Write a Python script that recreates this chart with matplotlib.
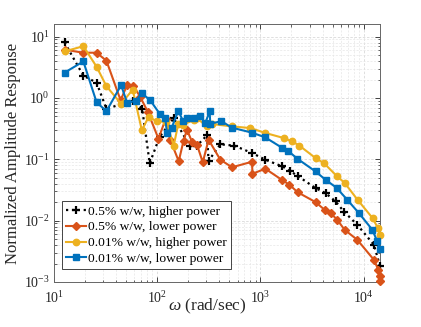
import matplotlib
matplotlib.use("Agg")
import matplotlib.pyplot as plt
from matplotlib.ticker import LogLocator, NullFormatter

plt.rcParams['font.family'] = ['Liberation Serif', 'DejaVu Serif']
plt.rcParams['mathtext.fontset'] = 'custom'
plt.rcParams['mathtext.rm'] = 'Liberation Serif'
plt.rcParams['mathtext.it'] = 'Liberation Serif:italic'
plt.rcParams['mathtext.bf'] = 'Liberation Serif:bold'

# ---------------- data ----------------
labels = ['0.5% w/w, higher power', '0.5% w/w, lower power',
          '0.01% w/w, higher power', '0.01% w/w, lower power']

black_x = [12.65, 19.25, 25.85, 32.2, 58.5, 71.5, 84.6, 105.7, 144.6, 209, 242.9, 303.8, 314.8,
           409, 559, 830.8, 1118, 1635, 1956, 2338, 3420, 4277, 5350, 6442, 8686, 12590, 14400]
black_y = [8.07, 2.31, 1.78, 0.669, 0.904, 0.669, 0.0863, 0.234, 0.468, 0.162, 0.167, 0.247, 0.0948,
           0.176, 0.167, 0.1268, 0.0985, 0.0766, 0.064, 0.0526, 0.034, 0.0282, 0.0206, 0.0141,
           0.00857, 0.00404, 0.00184]

orange_x = [12.65, 19.25, 25.85, 32.2, 44.2, 51.1, 58.5, 68.4, 80.9, 102.9,
            120.9, 133.7, 161.7, 180, 194.3, 217.3, 242.9, 276.5, 314.8, 409,
            531, 830.8, 836.5, 1118, 1635, 1912, 2302, 3420, 4180, 4782,
            5555, 6540, 8686, 12590, 13900, 14300, 14400]
orange_y = [6.14, 5.48, 5.48, 4.06, 0.92, 1.63, 1.59, 1.05, 0.598, 0.217,
            0.46, 0.209, 0.093, 0.201, 0.304, 0.194, 0.173, 0.0897, 0.209, 0.0985,
            0.0743, 0.0914, 0.0582, 0.0703, 0.0456, 0.0385, 0.029, 0.0201, 0.0151, 0.0133,
            0.01035, 0.00711, 0.00488, 0.0023, 0.00158, 0.00123, 0.00102]

yellow_x = [12.65, 19.25, 25.85, 32.2, 44.7, 57.9, 71.0, 82.7, 99.3, 122.3,
            144.6, 160, 178.8, 228.7, 242.9, 303.8, 339.7, 531, 800, 1118,
            1683, 2032, 2391, 3420, 4118, 5555, 6540, 8744, 12230, 13770, 14400]
yellow_y = [5.75, 7.0, 3.24, 1.56, 0.807, 1.366, 0.298, 0.495, 0.415, 0.41,
            0.167, 0.381, 0.367, 0.443, 0.468, 0.344, 0.377, 0.344, 0.324, 0.269,
            0.2226, 0.196, 0.167, 0.105, 0.087, 0.0526, 0.0415, 0.0219, 0.011, 0.00757, 0.00578]

blue_x = [12.65, 19.25, 25.85, 32.2, 44.7, 51.1, 62.5, 70.7, 85.5, 105.7,
          119.6, 124.2, 138.3, 160, 178.8, 195.6, 225.1, 261.6, 292.4, 322,
          327, 418, 531, 830.8, 1118, 1635, 1849, 2287, 3420, 4277,
          5469, 6946, 9004, 12150, 13580, 14400]
blue_y = [2.59, 3.95, 0.854, 0.61, 1.62, 0.838, 0.904, 1.197, 0.92, 0.555,
          0.472, 0.272, 0.328, 0.621, 0.415, 0.468, 0.472, 0.501, 0.391, 0.604,
          0.381, 0.419, 0.328, 0.272, 0.2275, 0.153, 0.138, 0.102, 0.0635, 0.0465,
          0.0344, 0.0219, 0.0133, 0.00711, 0.00458, 0.00344]

xticks = [1e1, 1e2, 1e3, 1e4]
xtick_labels = ['$10^{1}$', '$10^{2}$', '$10^{3}$', '$10^{4}$']
yticks = [1e-3, 1e-2, 1e-1, 1e0, 1e1]
ytick_labels = ['$10^{-3}$', '$10^{-2}$', '$10^{-1}$', '$10^{0}$', '$10^{1}$']

# ---------------- figure ----------------
fig = plt.figure(figsize=(4.21, 3.27), dpi=100)
ax = fig.add_axes([54/421, 45/327, 326/421, 258/327])

c_black, c_orange, c_yellow, c_blue = '#000000', '#D95319', '#EDB120', '#0072BD'

ax.plot(black_x, black_y, ':', color=c_black, lw=1.6, marker='+', ms=5.5, mew=1.6,
        label=labels[0], clip_on=False, zorder=3)
ax.plot(orange_x, orange_y, '-', color=c_orange, lw=1.5, marker='D', ms=3.8,
        label=labels[1], clip_on=False, zorder=3)
ax.plot(yellow_x, yellow_y, '-', color=c_yellow, lw=1.5, marker='o', ms=4.6,
        label=labels[2], clip_on=False, zorder=3)
ax.plot(blue_x, blue_y, '-', color=c_blue, lw=1.5, marker='s', ms=4.0,
        label=labels[3], clip_on=False, zorder=3)

ax.set_xscale('log')
ax.set_yscale('log')
ax.set_xlim(10, 14420)
ax.set_ylim(1e-3, 16.1)

ax.set_xticks(xticks)
ax.set_xticklabels(xtick_labels)
ax.set_yticks(yticks)
ax.set_yticklabels(ytick_labels)
ax.xaxis.set_minor_locator(LogLocator(base=10, subs=range(2, 10), numticks=20))
ax.yaxis.set_minor_locator(LogLocator(base=10, subs=range(2, 10), numticks=20))
ax.xaxis.set_minor_formatter(NullFormatter())
ax.yaxis.set_minor_formatter(NullFormatter())

ax.tick_params(which='both', direction='in', top=True, right=True, colors='#262626',
               labelsize=10, labelcolor='#262626')
ax.tick_params(which='major', length=3.5, width=0.6)
ax.tick_params(axis='x', which='major', pad=6)
ax.tick_params(axis='y', which='major', pad=3)
ax.tick_params(which='minor', length=1.8, width=0.5)

ax.grid(True, which='major', color='#d9d9d9', lw=0.6, ls=(0, (3, 2)))
ax.grid(True, which='minor', color='#e6e6e6', lw=0.5, ls=(0, (3, 2)))
ax.set_axisbelow(True)

for s in ax.spines.values():
    s.set_color('#666666')
    s.set_linewidth(0.7)

ax.set_ylabel('Normalized Amplitude Response', fontsize=12, color='#262626')
ax.yaxis.label.set_va('center')
ax.yaxis.set_label_coords(-0.126, 0.5)
ax.set_xlabel(r'$\omega$ (rad/sec)', fontsize=12.5, color='#262626')
ax.xaxis.label.set_va('center')
ax.xaxis.set_label_coords(0.469, -0.093)

leg = ax.legend(loc='lower left', bbox_to_anchor=(0.0245, 0.05), borderaxespad=0,
                fontsize=9.7, frameon=True, fancybox=False, framealpha=1,
                edgecolor='#262626', handlelength=1.5, handletextpad=0.15,
                labelspacing=0.25, borderpad=0.3)
leg.get_frame().set_linewidth(0.6)

fig.savefig('out.png', dpi=100, facecolor='white')
